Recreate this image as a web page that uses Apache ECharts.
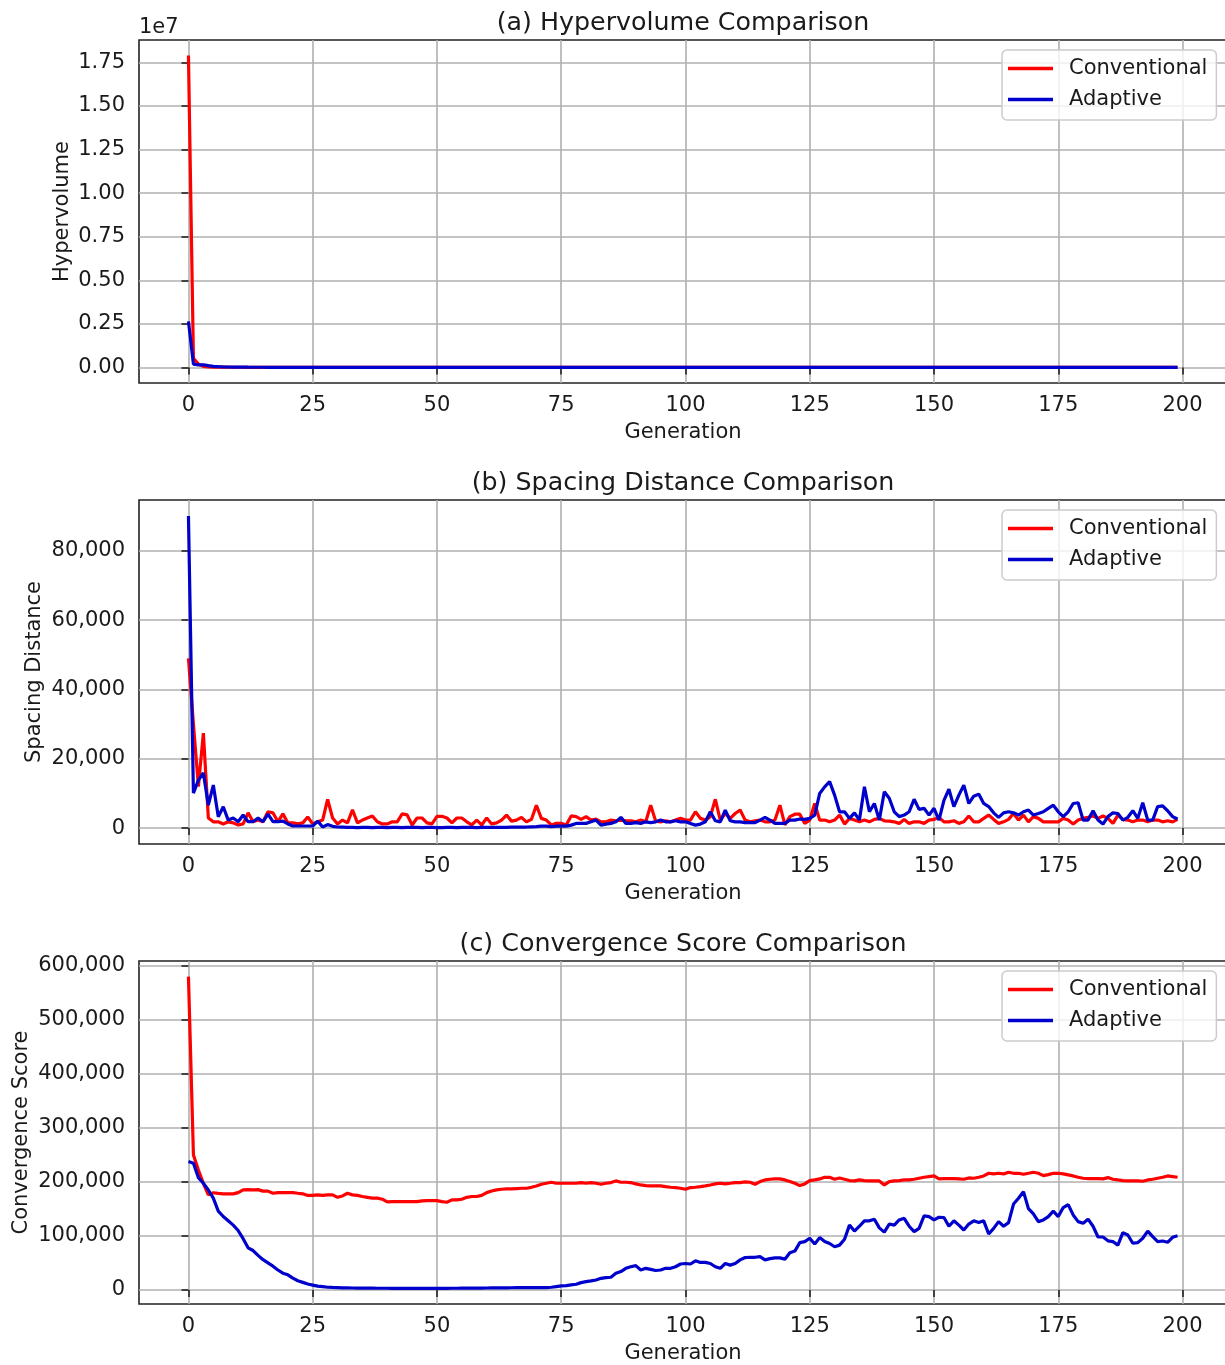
<!DOCTYPE html>
<html>
<head>
<meta charset="utf-8">
<script src="https://cdn.jsdelivr.net/npm/echarts@6/dist/echarts.min.js"></script>
<style>
  html, body { margin: 0; padding: 0; background: #ffffff; }
  #chart { width: 1225px; height: 1365px; }
</style>
</head>
<body>
<div id="chart"></div>
<script>
// Generations 0..199
const generations = Array.from({ length: 200 }, (_, i) => i);
const xTicks = [0, 25, 50, 75, 100, 125, 150, 175, 200];

// (a) Hypervolume
const hvTicks = [0, 2500000, 5000000, 7500000, 10000000, 12500000, 15000000, 17500000];
const hvConventional = [
  17900000, 530000, 190000, 62000, 31000, 21000, 16000, 13000, 11000, 9600,
  8700, 8000, 7400, 6900, 6500, 6200, 5900, 5700, 5500, 5300,
  5200, 5000, 4900, 4800, 4700, 4700, 4600, 4500, 4500, 4400,
  4400, 4300, 4300, 4200, 4200, 4100, 4100, 4100, 4000, 4000,
  4000, 3900, 3900, 3900, 3800, 3800, 3800, 3800, 3700, 3700,
  3700, 3700, 3600, 3600, 3600, 3600, 3600, 3500, 3500, 3500,
  3500, 3500, 3400, 3400, 3400, 3400, 3400, 3400, 3300, 3300,
  3300, 3300, 3300, 3300, 3300, 3200, 3200, 3200, 3200, 3200,
  3200, 3200, 3100, 3100, 3100, 3100, 3100, 3100, 3100, 3100,
  3000, 3000, 3000, 3000, 3000, 3000, 3000, 3000, 3000, 2900,
  2900, 2900, 2900, 2900, 2900, 2900, 2900, 2900, 2900, 2900,
  2800, 2800, 2800, 2800, 2800, 2800, 2800, 2800, 2800, 2800,
  2800, 2700, 2700, 2700, 2700, 2700, 2700, 2700, 2700, 2700,
  2700, 2700, 2600, 2600, 2600, 2600, 2600, 2600, 2600, 2600,
  2600, 2600, 2600, 2600, 2500, 2500, 2500, 2500, 2500, 2500,
  2500, 2500, 2500, 2500, 2500, 2500, 2500, 2400, 2400, 2400,
  2400, 2400, 2400, 2400, 2400, 2400, 2400, 2400, 2400, 2400,
  2400, 2300, 2300, 2300, 2300, 2300, 2300, 2300, 2300, 2300,
  2300, 2300, 2300, 2300, 2300, 2300, 2300, 2200, 2200, 2200,
  2200, 2200, 2200, 2200, 2200, 2200, 2200, 2200, 2200, 2200
];
const hvAdaptive = [
  2640000, 190000, 150000, 150000, 100000, 62000, 41000, 30000, 22000, 17000,
  14000, 12000, 10500, 9400, 8500, 7800, 7200, 6700, 6300, 6000,
  5700, 5500, 5300, 5100, 5000, 4900, 4800, 4700, 4600, 4500,
  4500, 4400, 4400, 4300, 4300, 4200, 4200, 4200, 4100, 4100,
  4100, 4000, 4000, 4000, 3900, 3900, 3900, 3900, 3800, 3800,
  3800, 3800, 3700, 3700, 3700, 3700, 3700, 3600, 3600, 3600,
  3600, 3600, 3500, 3500, 3500, 3500, 3500, 3500, 3400, 3400,
  3400, 3400, 3400, 3400, 3400, 3300, 3300, 3300, 3300, 3300,
  3300, 3300, 3200, 3200, 3200, 3200, 3200, 3200, 3200, 3200,
  3100, 3100, 3100, 3100, 3100, 3100, 3100, 3100, 3100, 3000,
  3000, 3000, 3000, 3000, 3000, 3000, 3000, 3000, 3000, 3000,
  2900, 2900, 2900, 2900, 2900, 2900, 2900, 2900, 2900, 2900,
  2900, 2800, 2800, 2800, 2800, 2800, 2800, 2800, 2800, 2800,
  2800, 2800, 2700, 2700, 2700, 2700, 2700, 2700, 2700, 2700,
  2700, 2700, 2700, 2700, 2600, 2600, 2600, 2600, 2600, 2600,
  2600, 2600, 2600, 2600, 2600, 2600, 2600, 2500, 2500, 2500,
  2500, 2500, 2500, 2500, 2500, 2500, 2500, 2500, 2500, 2500,
  2500, 2400, 2400, 2400, 2400, 2400, 2400, 2400, 2400, 2400,
  2400, 2400, 2400, 2400, 2400, 2400, 2400, 2300, 2300, 2300,
  2300, 2300, 2300, 2300, 2300, 2300, 2300, 2300, 2300, 2300
];

// (b) Spacing distance
const sdTicks = [0, 20000, 40000, 60000, 80000];
const sdConventional = [
  49000, 30000, 12000, 27400, 2900, 1800, 1800, 1200, 1800, 1500,
  900, 1200, 4400, 1800, 2300, 1800, 4700, 4400, 1800, 4100,
  1500, 1500, 1200, 1500, 3200, 1200, 1800, 2300, 8300, 2900,
  1200, 2300, 1500, 5300, 1500, 2300, 2900, 3500, 1800, 1200,
  1200, 1800, 1800, 4100, 3800, 900, 2900, 2900, 1500, 1200,
  3400, 3400, 2900, 1500, 2900, 2900, 1800, 900, 2300, 900,
  2900, 1200, 1500, 2300, 3750, 2000, 2300, 3100, 1800, 2500,
  6600, 2800, 2300, 900, 1350, 1350, 900, 3500, 3300, 2500,
  3300, 2300, 2600, 1800, 1800, 2300, 2100, 2300, 2100, 2100,
  1800, 2300, 1800, 6600, 2000, 1800, 2100, 1800, 2300, 2800,
  2300, 2300, 4700, 2800, 2300, 3300, 8300, 2300, 4200, 2800,
  4200, 5200, 2300, 1800, 2100, 2300, 1800, 1800, 2300, 6600,
  900, 3300, 4000, 4000, 1350, 2300, 7100, 2300, 2300, 1800,
  2300, 3750, 1150, 2800, 2300, 1800, 2300, 1800, 2500, 2800,
  2100, 2000, 1800, 1350, 2500, 1350, 1800, 1800, 1350, 2300,
  2500, 3100, 1800, 1800, 2100, 1350, 1800, 3500, 1800, 1800,
  2800, 3750, 2500, 1350, 1800, 2500, 4200, 2300, 3750, 1800,
  3300, 2800, 1800, 1800, 1800, 1800, 2800, 2300, 1150, 2300,
  2800, 3100, 3500, 2800, 3500, 2800, 1350, 3750, 2500, 2300,
  1800, 2300, 2300, 1800, 2300, 2300, 1800, 2100, 1800, 2500
];
const sdAdaptive = [
  90100, 10100, 13850, 15900, 6600, 12400, 3260, 6150, 2300, 2900,
  1830, 3750, 1830, 1830, 2900, 1830, 4000, 1830, 1830, 2000,
  1200, 600, 600, 600, 600, 600, 2000, 300, 1000, 500,
  300, 250, 200, 200, 150, 200, 200, 150, 200, 200,
  150, 200, 200, 150, 200, 200, 200, 150, 200, 200,
  150, 150, 200, 200, 150, 200, 200, 200, 150, 200,
  200, 200, 200, 200, 200, 250, 250, 300, 300, 350,
  400, 550, 550, 400, 550, 550, 550, 850, 1350, 1350,
  1350, 1800, 2300, 850, 1150, 1350, 1800, 3100, 1350, 1350,
  1550, 1350, 1800, 1550, 1800, 2300, 1800, 1800, 2100, 1800,
  1800, 1350, 850, 1150, 1800, 4700, 2100, 1800, 5200, 2100,
  1800, 1800, 1550, 1550, 1550, 2300, 3100, 2300, 1350, 1350,
  1350, 2300, 2300, 2600, 2500, 2800, 3750, 10000, 11900, 13400,
  9500, 4700, 4700, 2800, 4400, 2300, 11900, 4700, 7100, 2300,
  10500, 8600, 4700, 3300, 3750, 4700, 8300, 5400, 5700, 3750,
  5700, 2300, 8000, 11200, 6200, 9500, 12400, 7100, 9200, 9800,
  7100, 6200, 4400, 3100, 4400, 4700, 4400, 3750, 4700, 5200,
  3750, 4200, 4700, 5700, 6600, 4700, 3300, 4700, 7100, 7300,
  2300, 2300, 5000, 2300, 1150, 3300, 4400, 4200, 2300, 3100,
  5000, 2800, 7300, 2300, 2300, 6200, 6400, 5000, 3300, 2600
];

// (c) Convergence score
const csTicks = [0, 100000, 200000, 300000, 400000, 500000, 600000];
const csConventional = [
  580000, 250000, 222000, 197500, 176000, 180000, 178800, 177800, 177800, 177800,
  180200, 185200, 185800, 185200, 185800, 183000, 183000, 179000, 180200, 180200,
  180200, 180200, 179000, 178000, 175000, 175000, 176000, 175000, 176000, 176000,
  171500, 174000, 179000, 176000, 175000, 173000, 171500, 170000, 170000, 168000,
  163000, 163600, 163600, 163600, 163600, 163600, 163600, 164800, 165400, 165400,
  165400, 163600, 162400, 166700, 166700, 168000, 171500, 173000, 173000, 175000,
  180200, 183300, 185200, 186400, 187000, 187000, 187700, 188300, 188300, 190000,
  192600, 195700, 197500, 199400, 197500, 197500, 197500, 197500, 197500, 198800,
  197500, 198800, 197500, 195700, 197500, 198800, 201900, 199400, 199400, 198800,
  196300, 194400, 193200, 192600, 192600, 192600, 191300, 190100, 189500, 188300,
  186400, 189500, 190100, 191300, 192600, 194400, 196300, 197500, 196300, 197500,
  198800, 198800, 200000, 199400, 195700, 200600, 203700, 205000, 205600, 205600,
  203700, 200600, 197500, 193200, 196300, 202500, 203700, 205600, 208600, 208600,
  205000, 207400, 205000, 202500, 201900, 203700, 202500, 201900, 201900, 201900,
  194400, 200600, 201900, 202500, 203700, 203700, 205000, 206800, 208600, 209900,
  211100, 205600, 206200, 206200, 206200, 205600, 205000, 207400, 206800, 208600,
  211100, 216000, 214800, 216000, 214800, 217900, 216000, 216000, 214200, 216000,
  217900, 216000, 211700, 213600, 216000, 216000, 214800, 213000, 211100, 208600,
  206800, 206200, 206200, 206200, 205600, 208000, 205000, 203700, 202500, 201900,
  201900, 201900, 201200, 203700, 205000, 206800, 208600, 211100, 209900, 208600
];
const csAdaptive = [
  237700, 234600, 208000, 197500, 185000, 170000, 146000, 136000, 128000, 120000,
  110000, 95000, 78000, 73000, 64000, 56000, 50000, 44000, 37000, 31000,
  28000, 22000, 17000, 14000, 11000, 9000, 7000, 6000, 5000, 4600,
  4300, 4000, 3800, 3600, 3500, 3400, 3300, 3300, 3200, 3200,
  3200, 3100, 3100, 3100, 3000, 3000, 3000, 3000, 3000, 3000,
  3100, 3100, 3100, 3200, 3200, 3300, 3300, 3400, 3500, 3500,
  3600, 3700, 3800, 3900, 4000, 4100, 4200, 4300, 4300, 4300,
  4300, 4300, 4300, 5000, 6200, 7400, 8000, 9300, 10500, 13600,
  15400, 16700, 18500, 21600, 22800, 23500, 30900, 34000, 40000, 43000,
  45000, 37000, 40000, 38000, 36000, 37000, 40000, 40000, 43000, 48000,
  49000, 48000, 54000, 51000, 51000, 49000, 43000, 40000, 49000, 46000,
  49000, 55600, 60000, 60500, 60500, 61700, 55600, 58000, 59300, 59300,
  57000, 69000, 72000, 87600, 89500, 95700, 85000, 96900, 89500, 86000,
  80000, 83000, 93800, 120000, 109000, 118000, 128000, 128000, 131000, 115000,
  107000, 122000, 120000, 129600, 132700, 118000, 108000, 114000, 137000, 135800,
  129600, 134600, 134000, 118000, 128000, 120000, 111000, 122000, 128000, 125000,
  128000, 103700, 114000, 126500, 118000, 124600, 159000, 169700, 182000, 150600,
  141000, 126500, 129600, 135800, 146000, 135800, 152500, 158000, 138900, 126500,
  123500, 131000, 118000, 98000, 98000, 91000, 89500, 83000, 106000, 101800,
  86400, 87600, 95700, 109000, 98800, 89500, 90700, 88300, 97500, 100500
];

const FONT = 'DejaVu Sans';
const INK = '#1a1a1a';
const RED = '#ff0000';
const BLUE = '#0000cc';

const withCommas = v => String(v).replace(/\B(?=(\d{3})+(?!\d))/g, ',');

const panels = [
  { title: '(a) Hypervolume Comparison', yName: 'Hypervolume', yGap: 66,
    top: 40, height: 343, yMin: -895000, yMax: 18790000, yTicks: hvTicks,
    fmt: v => (v / 1e7).toFixed(2), conv: hvConventional, adap: hvAdaptive },
  { title: '(b) Spacing Distance Comparison', yName: 'Spacing Distance', yGap: 94,
    top: 500, height: 344, yMin: -4600, yMax: 94700, yTicks: sdTicks,
    fmt: withCommas, conv: sdConventional, adap: sdAdaptive },
  { title: '(c) Convergence Score Comparison', yName: 'Convergence Score', yGap: 107,
    top: 961, height: 343, yMin: -26000, yMax: 609000, yTicks: csTicks,
    fmt: withCommas, conv: csConventional, adap: csAdaptive }
];

const grids = [], xAxes = [], yAxes = [], series = [], legends = [], graphics = [];

panels.forEach((p, i) => {
  grids.push({
    left: 139, top: p.top, width: 1088, height: p.height,
    show: true, borderColor: '#222222', borderWidth: 1.6,
    backgroundColor: 'transparent', outerBoundsMode: 'none'
  });
  xAxes.push({
    type: 'value', gridIndex: i, min: -9.95, max: 208.95,
    name: 'Generation', nameLocation: 'middle', nameGap: 39, nameMoveOverlap: false,
    nameTextStyle: { fontFamily: FONT, fontSize: 21, color: INK },
    axisLine: { show: false },
    axisTick: { show: true, inside: false, length: 7, customValues: xTicks,
      lineStyle: { color: '#222222', width: 1.6 } },
    axisLabel: { show: true, customValues: xTicks, margin: 12,
      fontFamily: FONT, fontSize: 21, color: INK },
    splitLine: { show: true, lineStyle: { color: '#b0b0b0', width: 1.6 } }
  });
  yAxes.push({
    type: 'value', gridIndex: i, min: p.yMin, max: p.yMax,
    name: p.yName, nameLocation: 'middle', nameGap: p.yGap, nameRotate: 90,
    nameMoveOverlap: false,
    nameTextStyle: { fontFamily: FONT, fontSize: 21, color: INK },
    axisLine: { show: false },
    axisTick: { show: true, inside: false, length: 7, customValues: p.yTicks,
      lineStyle: { color: '#222222', width: 1.6 } },
    axisLabel: { show: true, customValues: p.yTicks, margin: 14, formatter: p.fmt,
      fontFamily: FONT, fontSize: 21, color: INK },
    splitLine: { show: true, lineStyle: { color: '#b0b0b0', width: 1.6 } }
  });
  series.push({
    type: 'line', name: 'Conventional', xAxisIndex: i, yAxisIndex: i,
    data: generations.map(g => [g, p.conv[g]]),
    showSymbol: false, symbol: 'none', color: RED,
    lineStyle: { color: RED, width: 3.2 }, z: 3
  });
  series.push({
    type: 'line', name: 'Adaptive', xAxisIndex: i, yAxisIndex: i,
    data: generations.map(g => [g, p.adap[g]]),
    showSymbol: false, symbol: 'none', color: BLUE,
    lineStyle: { color: BLUE, width: 3.2 }, z: 4
  });
  legends.push({
    orient: 'vertical', left: 1002, top: p.top + 10,
    padding: [8, 9, 10, 6], itemGap: 10,
    itemWidth: 45, itemHeight: 3.5, icon: 'rect',
    backgroundColor: 'rgba(255,255,255,0.8)', borderColor: '#cccccc',
    borderWidth: 1.5, borderRadius: 5,
    data: ['Conventional', 'Adaptive'],
    formatter: '{t|{name}}',
    textStyle: { rich: { t: { fontFamily: FONT, fontSize: 21, color: INK,
      padding: [0, 0, 0, 11], lineHeight: 20 } } }
  });
  graphics.push({
    type: 'text', x: 683, y: p.top - 17,
    style: { text: p.title, x: 0, y: 0, textAlign: 'center', textVerticalAlign: 'middle',
      fontFamily: FONT, fontSize: 25.3, fill: INK }
  });
});

// Offset (scale) text of the hypervolume axis
graphics.push({
  type: 'text', x: 139, y: 28,
  style: { text: '1e7', textAlign: 'left', textVerticalAlign: 'middle',
    fontFamily: FONT, fontSize: 21, fill: INK }
});

const chart = echarts.init(document.getElementById('chart'), null, { renderer: 'canvas' });
chart.setOption({
  animation: false,
  backgroundColor: '#ffffff',
  grid: grids,
  xAxis: xAxes,
  yAxis: yAxes,
  legend: legends,
  series: series,
  graphic: graphics
});
</script>
</body>
</html>
